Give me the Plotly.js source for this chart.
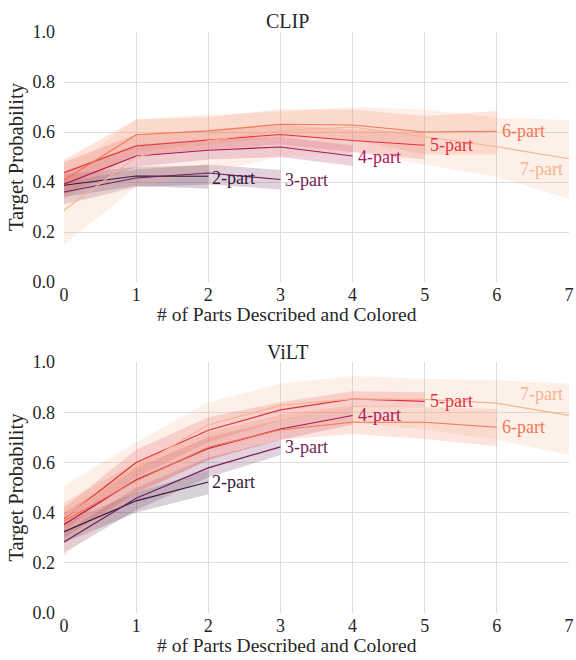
<!DOCTYPE html>
<html>
<head>
<meta charset="utf-8">
<script src="https://cdn.plot.ly/plotly-3.0.1.min.js"></script>
<style>html,body{margin:0;padding:0;background:#fff;}#chart{width:576px;height:660px;}</style>
</head>
<body>
<div id="chart"></div>
<script>
// Series names and colors
const seriesNames = ["2-part", "3-part", "4-part", "5-part", "6-part", "7-part"];
const seriesColors = ["#35193e", "#701f57", "#ad1759", "#e13342", "#f37651", "#f6b48f"];

// CLIP panel: mean, lower, upper per series (x = 0..n)
const clipMean = [
  [0.387, 0.424, 0.423],
  [0.360, 0.416, 0.436, 0.410],
  [0.391, 0.504, 0.527, 0.540, 0.504],
  [0.437, 0.544, 0.568, 0.590, 0.566, 0.547],
  [0.407, 0.589, 0.604, 0.631, 0.628, 0.600, 0.603],
  [0.287, 0.500, 0.565, 0.605, 0.620, 0.581, 0.541, 0.493]
];
const clipLower = [
  [0.340, 0.385, 0.373],
  [0.310, 0.380, 0.390, 0.370],
  [0.350, 0.460, 0.490, 0.500, 0.464],
  [0.390, 0.500, 0.530, 0.550, 0.520, 0.490],
  [0.330, 0.520, 0.550, 0.580, 0.570, 0.510, 0.510],
  [0.150, 0.380, 0.440, 0.500, 0.520, 0.470, 0.420, 0.333]
];
const clipUpper = [
  [0.430, 0.460, 0.467],
  [0.400, 0.450, 0.470, 0.448],
  [0.440, 0.550, 0.570, 0.580, 0.547],
  [0.480, 0.590, 0.610, 0.630, 0.610, 0.600],
  [0.489, 0.650, 0.660, 0.690, 0.690, 0.664, 0.684],
  [0.440, 0.650, 0.670, 0.680, 0.700, 0.690, 0.657, 0.648]
];
const clipLabelX = [2.03, 3.03, 4.05, 5.05, 6.05, 6.95];
const clipLabelY = [0.418, 0.410, 0.500, 0.547, 0.603, 0.452];

// ViLT panel
const viltMean = [
  [0.324, 0.447, 0.522],
  [0.283, 0.457, 0.578, 0.662],
  [0.353, 0.531, 0.656, 0.733, 0.787],
  [0.376, 0.600, 0.728, 0.809, 0.853, 0.843],
  [0.367, 0.527, 0.660, 0.730, 0.760, 0.760, 0.740],
  [0.380, 0.580, 0.750, 0.827, 0.853, 0.851, 0.836, 0.787]
];
const viltLower = [
  [0.280, 0.400, 0.473],
  [0.240, 0.410, 0.540, 0.630],
  [0.300, 0.480, 0.610, 0.690, 0.750],
  [0.330, 0.540, 0.680, 0.767, 0.820, 0.820],
  [0.300, 0.470, 0.610, 0.690, 0.713, 0.693, 0.664],
  [0.227, 0.470, 0.640, 0.720, 0.760, 0.730, 0.690, 0.630]
];
const viltUpper = [
  [0.360, 0.480, 0.570],
  [0.320, 0.500, 0.620, 0.690],
  [0.400, 0.580, 0.700, 0.770, 0.820],
  [0.420, 0.650, 0.780, 0.840, 0.884, 0.880],
  [0.440, 0.600, 0.720, 0.790, 0.827, 0.820, 0.813],
  [0.507, 0.680, 0.840, 0.913, 0.944, 0.933, 0.927, 0.913]
];
const viltLabelX = [2.03, 3.03, 4.05, 5.05, 6.05, 6.95];
const viltLabelY = [0.522, 0.662, 0.787, 0.843, 0.740, 0.873];

const xTicks = [0, 1, 2, 3, 4, 5, 6, 7];
const yTicks = [0.0, 0.2, 0.4, 0.6, 0.8, 1.0];
const yTickText = ["0.0", "0.2", "0.4", "0.6", "0.8", "1.0"];

const panelTitles = ["CLIP", "ViLT"];
const xTitle = "# of Parts Described and Colored";
const yTitle = "Target Probability";

function hexToRgba(hex, a) {
  const n = parseInt(hex.slice(1), 16);
  return `rgba(${(n >> 16) & 255},${(n >> 8) & 255},${n & 255},${a})`;
}

const traces = [];
const annotations = [];
const FONT = "Liberation Serif, Times New Roman, Times, serif";
const TXT = "#262626";

function addPanel(mean, lower, upper, labX, labY, xa, ya) {
  for (let i = 0; i < seriesNames.length; i++) {
    const xs = mean[i].map((_, k) => k);
    const col = seriesColors[i];
    traces.push({
      x: xs.concat(xs.slice().reverse()),
      y: upper[i].concat(lower[i].slice().reverse()),
      fill: "toself", fillcolor: hexToRgba(col, 0.2),
      line: {width: 0}, mode: "lines", hoverinfo: "skip",
      xaxis: xa, yaxis: ya, showlegend: false
    });
  }
  for (let i = 0; i < seriesNames.length; i++) {
    const xs = mean[i].map((_, k) => k);
    const col = seriesColors[i];
    traces.push({
      x: xs, y: mean[i], mode: "lines",
      line: {color: col, width: 1.2},
      xaxis: xa, yaxis: ya, showlegend: false, name: seriesNames[i]
    });
    const last = labX[i] > 6.9;
    annotations.push({
      x: labX[i], y: labY[i], xref: xa, yref: ya,
      text: seriesNames[i], showarrow: false,
      xanchor: last ? "right" : "left", yanchor: "middle",
      font: {family: FONT, size: 18, color: col}
    });
  }
}

addPanel(clipMean, clipLower, clipUpper, clipLabelX, clipLabelY, "x", "y");
addPanel(viltMean, viltLower, viltUpper, viltLabelX, viltLabelY, "x2", "y2");

// Titles (centred slightly left of the plot centre, as in the reference)
const TX = 0.4416;
annotations.push({text: panelTitles[0], x: TX, y: 1.019, xref: "paper", yref: "paper",
  xanchor: "center", yanchor: "middle", showarrow: false,
  font: {family: FONT, size: 20, color: TXT}});
annotations.push({text: panelTitles[1], x: TX, y: 0.449, xref: "paper", yref: "paper",
  xanchor: "center", yanchor: "middle", showarrow: false,
  font: {family: FONT, size: 20, color: TXT}});
annotations.push({text: xTitle, x: TX, y: 0.5146, xref: "paper", yref: "paper",
  xanchor: "center", yanchor: "middle", showarrow: false,
  font: {family: FONT, size: 19.5, color: TXT}});
annotations.push({text: xTitle, x: TX, y: -0.0551, xref: "paper", yref: "paper",
  xanchor: "center", yanchor: "middle", showarrow: false,
  font: {family: FONT, size: 19.5, color: TXT}});

const axCommon = {
  showgrid: true, gridcolor: "#dedede", gridwidth: 1,
  zeroline: false, showline: false, ticks: "",
  tickfont: {family: FONT, size: 18, color: TXT}
};

const layout = {
  width: 576, height: 660,
  margin: {l: 64, r: 7, t: 32, b: 47},
  paper_bgcolor: "#fff", plot_bgcolor: "#fff",
  font: {family: FONT, color: TXT},
  showlegend: false,
  xaxis: Object.assign({}, axCommon, {range: [0, 7], tickvals: xTicks, anchor: "y", domain: [0, 1]}),
  yaxis: Object.assign({}, axCommon, {range: [0, 1], tickvals: yTicks, ticktext: yTickText, ticklabelstandoff: 8,
    domain: [0.5697, 1], anchor: "x", title: {text: yTitle, font: {family: FONT, size: 20.5}, standoff: 3}}),
  xaxis2: Object.assign({}, axCommon, {range: [0, 7], tickvals: xTicks, anchor: "y2", domain: [0, 1]}),
  yaxis2: Object.assign({}, axCommon, {range: [0, 1], tickvals: yTicks, ticktext: yTickText, ticklabelstandoff: 8,
    domain: [0, 0.432], anchor: "x2", title: {text: yTitle, font: {family: FONT, size: 20.5}, standoff: 3}}),
  annotations: annotations
};

Plotly.newPlot("chart", traces, layout, {displayModeBar: false, staticPlot: true});
</script>
</body>
</html>
